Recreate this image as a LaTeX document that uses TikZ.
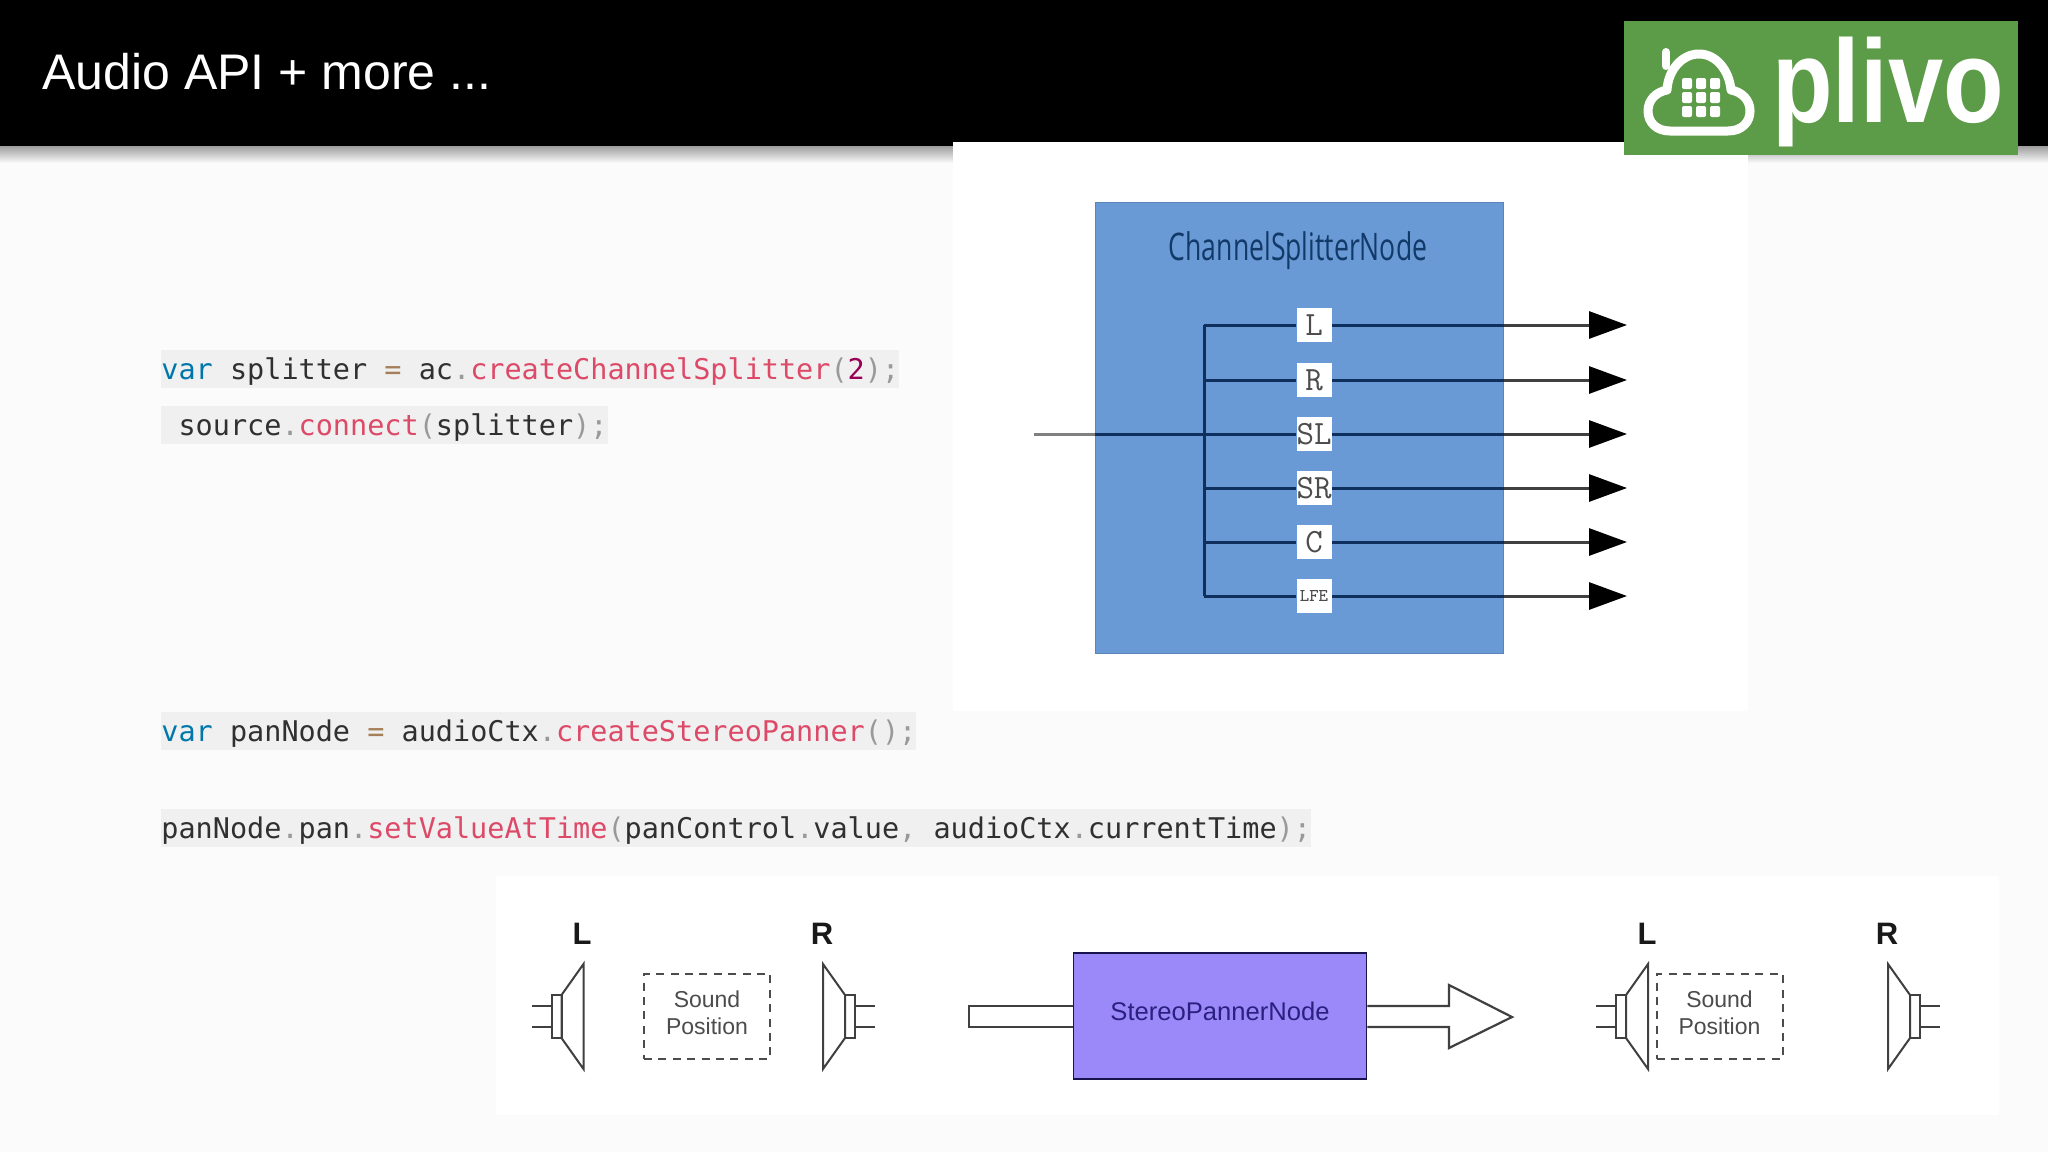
\documentclass[tikz,border=0pt]{standalone}
\usepackage{fontspec}
\setmainfont{Liberation Sans}
\setmonofont{DejaVu Sans Mono}
\newfontfamily\narrowfont[FakeStretch=.7]{Open Sans}
\newfontfamily\logofont[FakeStretch=.84]{Liberation Sans}
\newfontfamily\slabfont{Latin Modern Mono}
\usetikzlibrary{arrows.meta}

\definecolor{pagebg}{HTML}{FBFBFC}
\definecolor{codebg}{HTML}{F0F0F1}
\definecolor{logogreen}{HTML}{5C9B47}
\definecolor{splitblue}{HTML}{6A9AD6}
\definecolor{splitnavy}{HTML}{123A68}
\definecolor{splitline}{HTML}{0F2F5C}
\definecolor{panpurple}{HTML}{9C89F9}
\definecolor{pannavy}{HTML}{2A2080}
\definecolor{kwblue}{HTML}{0077AA}
\definecolor{fnred}{HTML}{DD4A68}
\definecolor{opbrown}{HTML}{A67F59}
\definecolor{numpink}{HTML}{990055}
\definecolor{punctgray}{HTML}{999999}
\definecolor{codeink}{HTML}{303030}

\newcommand{\kw}[1]{\textcolor{kwblue}{#1}}
\newcommand{\fn}[1]{\textcolor{fnred}{#1}}
\newcommand{\op}[1]{\textcolor{opbrown}{#1}}
\newcommand{\pc}[1]{\textcolor{punctgray}{#1}}

\tikzset{
  codeline/.style={anchor=base west, inner xsep=0pt, inner ysep=0pt, fill=codebg, text=codeink,
    text height=14.5pt, text depth=4.5pt, font=\fontsize{14.25}{17}\selectfont\ttfamily},
  chanbox/.style={fill=white, inner sep=0pt, minimum width=17.5pt, minimum height=17pt, text=black!70},
  inline/.style={line width=1.5pt, draw=splitline},
  outarrow/.style={line width=1.5pt, draw=black!75, -{Triangle[length=19pt,width=13.5pt,color=black]}},
  spkline/.style={line width=1pt, black!75, line join=miter},
  spklabel/.style={font=\fontsize{15.5}{15.5}\selectfont\bfseries, text=black!90, inner sep=0pt},
  posbox/.style={draw=black!70, line width=1pt, dash pattern=on 4pt off 3.2pt, inner sep=0pt,
    minimum width=63pt, minimum height=42.5pt},
  postext/.style={align=center, inner sep=0pt, text=black!70, yshift=1.8pt,
    font=\fontsize{11.5}{13.7}\selectfont},
}

\begin{document}
\begin{tikzpicture}[x=.5pt,y=-.5pt]
\useasboundingbox (0,0) rectangle (2048,1152);

% page and header
\fill[pagebg] (0,0) rectangle (2048,1152);
\shade[top color=black!38, bottom color=pagebg] (0,146) rectangle (2048,163);
\fill[black] (0,0) rectangle (2048,146);
\node[anchor=base west, inner sep=0pt, text=white, font=\fontsize{25}{25}\selectfont] (title) at (42,89.5) {Audio API + more ...};

% white panels
\fill[white] (953,142) rectangle (1748,711);
\fill[white] (496,876) rectangle (1999,1115);

% logo
\fill[logogreen] (1624,21) rectangle (2018,155);
\draw[white, line width=4.5pt, line join=round]
  (1670,131) .. controls (1656,131) and (1648,122) .. (1648,111)
  .. controls (1648,100) and (1656,92) .. (1667,90)
  .. controls (1668,70) and (1682,54) .. (1699,54)
  .. controls (1716,54) and (1729,70) .. (1731,90)
  .. controls (1742,92) and (1750,100) .. (1750,111)
  .. controls (1750,122) and (1742,131) .. (1728,131) -- cycle;
\draw[white, line width=4pt, line cap=round] (1666,52) -- (1666,66);
\foreach \x in {1682,1696,1710} {
  \foreach \y in {78,92,106} {
    \fill[white, rounded corners=1pt] (\x,\y) rectangle ++(10,11);
  }
}
\node[anchor=base west, inner sep=0pt, text=white, font=\fontsize{59}{59}\selectfont\logofont\bfseries] (plivo) at (1772,122) {plivo};

% code
\node[codeline] (codea) at (161,379) {\kw{var} splitter \op{=} ac\pc{.}\fn{createChannelSplitter}\pc{(}\textcolor{numpink}{2}\pc{)}\pc{;}};
\node[codeline] (codeb) at (161,435) {\ source\pc{.}\fn{connect}\pc{(}splitter\pc{)}\pc{;}};
\node[codeline] (codec) at (161,741) {\kw{var} panNode \op{=} audioCtx\pc{.}\fn{createStereoPanner}\pc{(}\pc{)}\pc{;}};
\node[codeline] (coded) at (161,838) {panNode\pc{.}pan\pc{.}\fn{setValueAtTime}\pc{(}panControl\pc{.}value\pc{,} audioCtx\pc{.}currentTime\pc{)}\pc{;}};

% channel splitter
\node[fill=splitblue, draw=splitblue!85!black, line width=.5pt, minimum width=204pt, minimum height=225.5pt, inner sep=0pt] (splitter) at (1299,427.5) {};
\node[inner sep=0pt, text=splitnavy, font=\fontsize{19}{19}\selectfont\narrowfont] (splittitle) at (1298,251) {ChannelSplitterNode};

\coordinate (tapin) at (1034,434);
\coordinate (taptop) at (1204,325);
\coordinate (tapbot) at (1204,596);
\draw[inline] (taptop) -- (tapbot);
\draw[line width=1.5pt, black!50] (tapin) -- (splitter.west |- tapin);
\draw[inline] (splitter.west |- tapin) -- (1204,434);

\foreach \name/\lab/\y/\fs in {l/L/325/17,r/R/380/17,sl/SL/434/17,sr/SR/488/17,c/C/542/17,lfe/LFE/596/9} {
  \coordinate (tap\name) at (1204,\y);
  \coordinate (out\name) at (1627,\y);
  \node[chanbox, font=\fontsize{\fs}{\fs}\selectfont\slabfont] (ch\name) at (1314,\y) {\lab};
  \draw[inline] (tap\name) -- (ch\name);
  \draw[inline] (ch\name) -- (splitter.east |- ch\name);
  \draw[outarrow] (splitter.east |- ch\name) -- (out\name);
}

% stereo panner
\node[fill=panpurple, draw=pannavy!60!black, line width=.9pt, minimum width=146.5pt, minimum height=63pt, inner sep=0pt,
  text=pannavy, text depth=5pt, font=\fontsize{12.8}{14}\selectfont] (panner) at (1220,1016) {StereoPannerNode};

\coordinate (intop) at (969,1006);
\coordinate (inbot) at (969,1027);
\draw[spkline, line width=1.1pt] (panner.west |- intop) -- (intop) -- (inbot) -- (panner.west |- inbot);

\coordinate (neckt) at (1449,1006);
\coordinate (headt) at (1449,985);
\coordinate (tip) at (1512,1017);
\coordinate (headb) at (1449,1048);
\coordinate (neckb) at (1449,1027);
\draw[spkline, line width=1.1pt] (panner.east |- neckt) -- (neckt) -- (headt) -- (tip) -- (headb) -- (neckb) -- (panner.east |- neckb);

% speakers
\foreach \px/\d in {583.5/-1,823/1,1648/-1,1888/1} {
  \draw[spkline] (\px,964) -- (\px,1069) -- ({\px+22*\d},1038) -- ({\px+22*\d},995) -- cycle;
  \draw[spkline] ({\px+22*\d},995) rectangle ({\px+32*\d},1038);
  \draw[spkline] ({\px+32*\d},1006) -- ({\px+52*\d},1006);
  \draw[spkline] ({\px+32*\d},1027) -- ({\px+52*\d},1027);
}
\node[spklabel] (leftl) at (582,934) {L};
\node[spklabel] (leftr) at (822,934) {R};
\node[spklabel] (rightl) at (1647,934) {L};
\node[spklabel] (rightr) at (1887,934) {R};

\node[posbox, label={[postext]center:{Sound\\Position}}] (posa) at (707,1016.5) {};
\node[posbox, label={[postext]center:{Sound\\Position}}] (posb) at (1719.5,1016.5) {};

\end{tikzpicture}
\end{document}
